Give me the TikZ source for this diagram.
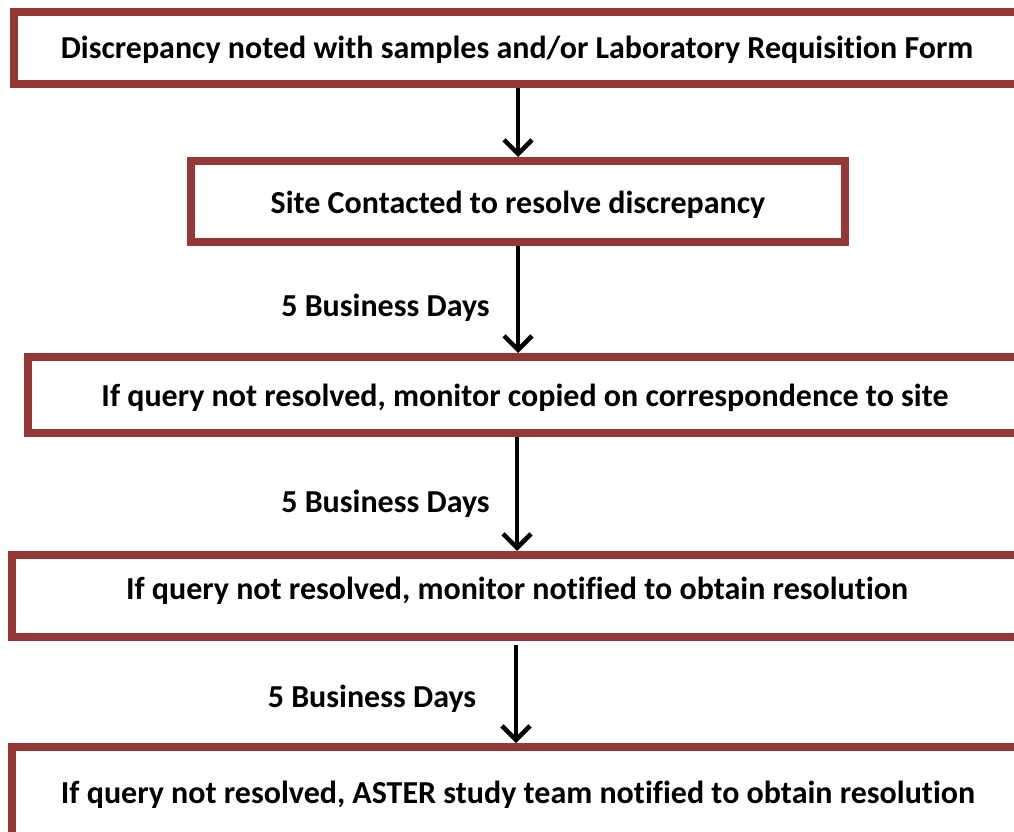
\documentclass[tikz,border=0pt]{standalone}
\usepackage{fontspec}
\setmainfont{Carlito}[Ligatures={NoCommon}]
\usetikzlibrary{arrows.meta,calc}
\definecolor{boxred}{RGB}{149,55,53}
\newcommand\rtxt[2]{\raisebox{#1}[0pt][0pt]{#2}}
\tikzset{
  stepbox/.style={draw=boxred, line width=8pt, fill=white, inner sep=0pt,
    font=\fontsize{32}{38}\selectfont\bfseries, text=black, anchor=center},
  flow/.style={line width=4.5pt, -{Straight Barb[length=14pt,width=28pt,line width=4.5pt]}},
  lbl/.style={font=\fontsize{32}{38}\selectfont\bfseries, inner sep=0pt, anchor=base}
}
\begin{document}
\begin{tikzpicture}[x=1pt,y=-1pt]
\useasboundingbox[clip] (0,0) rectangle (1014,832);
\fill[white] (0,0) rectangle (1014,832);
\node[stepbox, minimum width=1006pt, minimum height=72pt] (b1) at (517,48)
  {\rtxt{-10.3pt}{Discrepancy noted with samples and/or Laboratory Requisition Form}};
\node[stepbox, minimum width=654pt, minimum height=81pt] (b2) at (518,201.5)
  {\rtxt{-11.8pt}{Site Contacted to resolve discrepancy}};
\node[stepbox, minimum width=994pt, minimum height=76pt] (b3) at (525,395)
  {\rtxt{-11.3pt}{If query not resolved, monitor copied on correspondence to site}};
\node[stepbox, minimum width=1010pt, minimum height=82pt] (b4) at (517,596)
  {\rtxt{-3.8pt}{If query not resolved, monitor notified to obtain resolution}};
\node[stepbox, minimum width=1012pt, minimum height=100pt] (b5) at (518,797)
  {\rtxt{-6.3pt}{If query not resolved, ASTER study team notified to obtain resolution}};
\coordinate (ax) at (518,0);
\draw[flow] (b1.south -| ax) -- (b2.north -| ax);
\draw[flow] (b2.south -| ax) -- (b3.north -| ax);
\draw[flow] ($(b3.south -| ax)+(-1,0)$) -- ($(b4.north -| ax)+(-1,0)$);
\draw[flow] ($(b4.south -| ax)+(-2,4)$) -- ($(b5.north -| ax)+(-2,0)$);
\node[lbl] (l1) at (385.5,316.5) {5 Business Days};
\node[lbl] (l2) at (385.5,512.5) {5 Business Days};
\node[lbl] (l3) at (372,707.5) {5 Business Days};
\end{tikzpicture}
\end{document}
